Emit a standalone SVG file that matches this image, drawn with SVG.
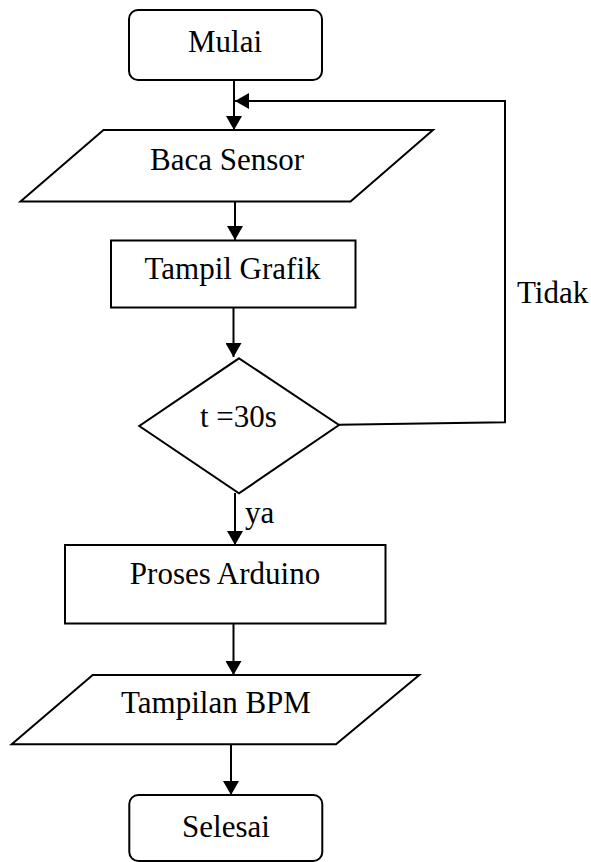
<svg xmlns="http://www.w3.org/2000/svg" width="591" height="862" viewBox="0 0 591 862">
  <style>
    .shape { fill: #ffffff; stroke: #000000; stroke-width: 2; }
    .line { fill: none; stroke: #000000; stroke-width: 2; }
    .label { font-family: "Liberation Serif", "Times New Roman", serif; font-size: 31px; fill: #000000; }
    .mid { text-anchor: middle; }
  </style>
  <defs>
    <marker id="arrow" markerWidth="14" markerHeight="16" refX="14" refY="8" orient="auto" markerUnits="userSpaceOnUse">
      <path d="M0,0 L14,8 L0,16 Z" fill="#000000"/>
    </marker>
  </defs>
  <rect width="591" height="862" fill="#ffffff"/>

  <!-- connectors -->
  <g id="connectors">
    <line class="line" x1="234" y1="80" x2="234" y2="130" marker-end="url(#arrow)"/>
    <line class="line" x1="235" y1="202" x2="235" y2="240" marker-end="url(#arrow)"/>
    <line class="line" x1="233.5" y1="308" x2="233.5" y2="357" marker-end="url(#arrow)"/>
    <polyline class="line" points="339,424.7 505,422.3 505,101 235,101" marker-end="url(#arrow)"/>
    <line class="line" x1="235" y1="493" x2="235" y2="545" marker-end="url(#arrow)"/>
    <line class="line" x1="233.5" y1="623" x2="233.5" y2="675" marker-end="url(#arrow)"/>
    <line class="line" x1="231" y1="744" x2="231" y2="795" marker-end="url(#arrow)"/>
    <text class="label" x="245" y="523">ya</text>
    <text class="label" x="517" y="303">Tidak</text>
  </g>

  <g id="mulai">
    <rect class="shape" x="129" y="10" width="193" height="70" rx="9" ry="9"/>
    <text class="label mid" x="225" y="52">Mulai</text>
  </g>

  <g id="baca-sensor">
    <polygon class="shape" points="103.5,130 433,130 350.5,201.5 20.5,201.5"/>
    <text class="label mid" x="227" y="170">Baca Sensor</text>
  </g>

  <g id="tampil-grafik">
    <rect class="shape" x="111" y="240.5" width="244.5" height="67"/>
    <text class="label mid" x="232.5" y="279">Tampil Grafik</text>
  </g>

  <g id="t-30s">
    <polygon class="shape" points="239,358.3 339,425 239,493.3 139.3,426"/>
    <text class="label" x="200" y="427">t =30s</text>
  </g>

  <g id="proses-arduino">
    <rect class="shape" x="65" y="545" width="320.5" height="78.5"/>
    <text class="label mid" x="225" y="584">Proses Arduino</text>
  </g>

  <g id="tampilan-bpm">
    <polygon class="shape" points="92.7,675 419.3,675 336,744.3 11.7,744.3"/>
    <text class="label mid" x="216" y="713">Tampilan BPM</text>
  </g>

  <g id="selesai">
    <rect class="shape" x="129.3" y="795" width="193" height="66" rx="9" ry="9"/>
    <text class="label mid" x="226" y="837">Selesai</text>
  </g>
</svg>
